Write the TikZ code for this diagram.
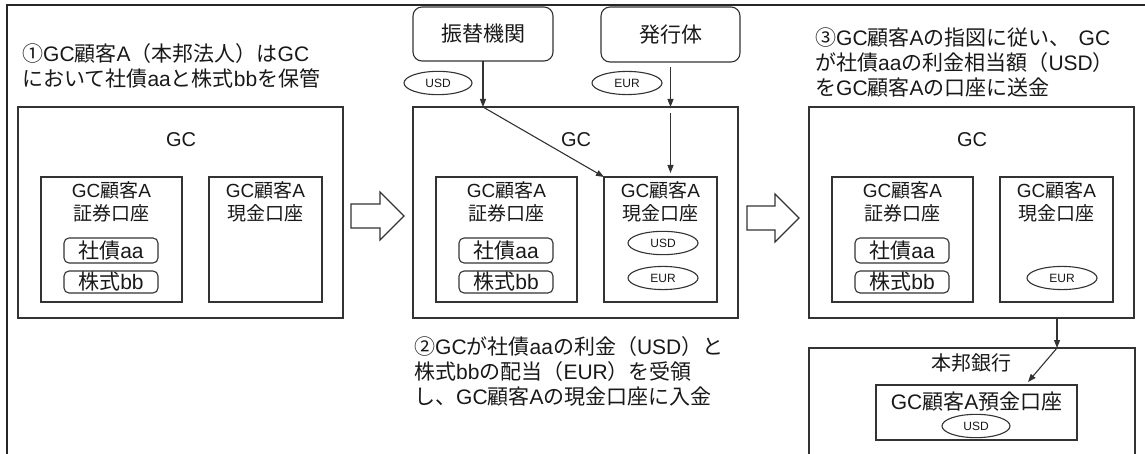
\documentclass[tikz,border=0pt]{standalone}
\usepackage{fontspec}
\setmainfont{Noto Sans CJK JP}
\newfontfamily\arialf{Liberation Sans}
\usetikzlibrary{arrows.meta,shapes.geometric,calc}
\newcommand\ar[1]{{\arialf #1}}
\newcommand\fs[2]{\fontsize{#1}{#2}\selectfont}
\newcommand\mypanel[2]{%
  \node[box, minimum width=325pt, minimum height=211pt] (gc#2) at (#1+162.5, 212.5) {};
  \node[lbl, font=\fs{20}{23}] (gct#2) at (#1+163, 140) {\ar{GC}};
  \node[box, minimum width=141pt, minimum height=125pt] (sec#2) at (#1+93.5, 239.5) {};
  \node[lbl, align=center] (sect#2) at (#1+93.5, 201.5) {\ar{GC}顧客\ar{A}\\証券口座};
  \node[box, minimum width=113pt, minimum height=125pt] (cash#2) at (#1+247.5, 239.5) {};
  \node[lbl, align=center] (casht#2) at (#1+247.5, 201.5) {\ar{GC}顧客\ar{A}\\現金口座};
  \node[rbox, minimum width=94pt, minimum height=25pt] (bond#2) at (#1+93, 250.5) {社債\ar{aa}};
  \node[rbox, minimum width=94pt, minimum height=22pt] (stock#2) at (#1+93, 282) {株式\ar{bb}};
}
\begin{document}
\begin{tikzpicture}[x=1pt,y=-1pt,
  line/.style={draw=black!80, line width=1.1pt},
  box/.style={line, rectangle, inner sep=0pt, outer sep=0pt},
  rbox/.style={box, rounded corners=5pt, font=\fs{21}{24}, text=black!90},
  tbox/.style={box, rounded corners=9pt, font=\fs{21}{24}, text=black!90},
  cur/.style={line, shape=ellipse, inner xsep=2pt, inner ysep=4pt, minimum width=70pt, minimum height=23pt, font=\arialf\fs{12}{13}, text=black!90},
  lbl/.style={inner sep=0pt, font=\fs{19}{23}, text=black!90},
  big/.style={inner sep=0pt, font=\fs{21}{25}, align=left, text=black!90, anchor=west},
  arr/.style={line, -{Triangle[length=8pt,width=6pt]}},
]
\useasboundingbox (0,0) rectangle (1145,454);
\clip (0,0) rectangle (1145,454);
\fill[white] (0,0) rectangle (1145,454);
\draw[line width=2pt, black!85] (7,470) -- (7,5) -- (1160,5);

% texts
\node[big] (t1) at (22,66) {①\ar{GC}顧客\ar{A}（本邦法人）は\ar{GC}\\において社債\ar{aa}と株式\ar{bb}を保管};
\node[big] (t2) at (414,371.5) {②\ar{GC}が社債\ar{aa}の利金（\ar{USD}）と\\株式\ar{bb}の配当（\ar{EUR}）を受領\\し、\ar{GC}顧客\ar{A}の現金口座に入金};
\node[big] (t3) at (815,62) {③\ar{GC}顧客\ar{A}の指図に従い、\hspace{8pt}\ar{GC}\\が社債\ar{aa}の利金相当額（\ar{USD}）\\を\ar{GC}顧客\ar{A}の口座に送金};

% panels
\mypanel{18}{1}
\mypanel{413}{2}
\mypanel{809}{3}

% block arrows
\draw[line] (351,204) -- (380,204) -- (380,192) -- (404,216) -- (380,240) -- (380,228) -- (351,228) -- cycle;
\draw[line] (747,206) -- (775,206) -- (775,194) -- (799,218) -- (775,242) -- (775,230) -- (747,230) -- cycle;

% panel 2 sources
\node[tbox, minimum width=140pt, minimum height=54pt] (fk) at (483,34) {振替機関};
\node[tbox, minimum width=139pt, minimum height=55pt] (hk) at (670.5,34.5) {発行体};
\node[cur, minimum width=68pt, minimum height=23pt] (usdt) at (438,83) {USD};
\node[cur, minimum height=23pt] (eurt) at (627,83) {EUR};
\node[cur] (usd2) at (663,243) {USD};
\node[cur] (eur2) at (663,278) {EUR};
\draw[arr] (fk.south) -- (fk.south |- gc2.north);
\draw[arr] (fk.south |- gc2.north) -- (cash2.north west);
\draw[arr] ($(hk.south)+(0,5)$) -- (hk.south |- gc2.north);
\draw[arr] ($(hk.south |- gc2.north)+(0,6)$) -- ($(hk.south |- cash2.north)+(0,-4)$);

% panel 3
\node[cur] (eur3) at (1062,278) {EUR};
\node[box, minimum width=326pt, minimum height=130pt, anchor=north west] (bank) at (809,348) {};
\node[lbl, font=\fs{20}{24}] (bankt) at (971,363) {本邦銀行};
\node[box, minimum width=201pt, minimum height=55pt] (acct) at (976.5,412.5) {};
\node[lbl, font=\fs{21}{24}] (acctt) at (976.5,402) {\ar{GC}顧客\ar{A}預金口座};
\node[cur, minimum width=68pt] (usd3) at (976,426) {USD};
\coordinate (p3) at (1057,0);
\coordinate (q3) at (1028,382);
\draw[arr] (gc3.south -| p3) -- (bank.north -| p3);
\draw[arr] (bank.north -| p3) -- (q3);
\end{tikzpicture}
\end{document}
